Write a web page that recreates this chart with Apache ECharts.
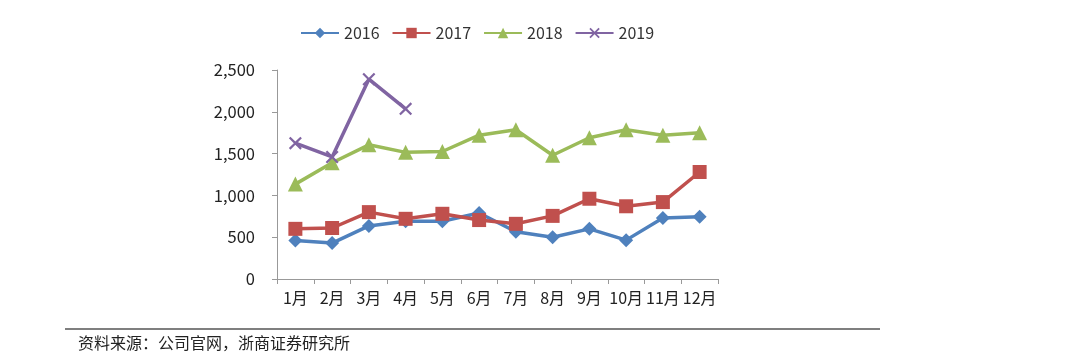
<!DOCTYPE html>
<html><head><meta charset="utf-8">
<script src="https://cdn.jsdelivr.net/npm/echarts@6/dist/echarts.min.js"></script>
<style>html,body{margin:0;padding:0;background:#fff}#c{width:1080px;height:362px}</style>
</head><body><div id="c"></div>
<script>
const categories = ['1月','2月','3月','4月','5月','6月','7月','8月','9月','10月','11月','12月'];
const s2016 = [460, 430, 635, 690, 690, 790, 565, 500, 600, 465, 730, 745];
const s2017 = [600, 610, 800, 720, 780, 705, 660, 755, 960, 870, 920, 1280];
const s2018 = [1135, 1390, 1605, 1515, 1525, 1720, 1785, 1480, 1690, 1785, 1720, 1750];
const s2019 = [1625, 1460, 2390, 2035];
const yTicks = [0, 500, 1000, 1500, 2000, 2500];

const font = '"Noto Sans CJK SC", "Noto Sans", sans-serif';
const xSym = 'path://M0,1.2L1.2,0L5,3.8L8.8,0L10,1.2L6.2,5L10,8.8L8.8,10L5,6.2L1.2,10L0,8.8L3.8,5Z';
function ser(name, data, color, symbol, size) {
  return {name, type:'line', data, symbol, symbolSize:size,
    lineStyle:{color, width:3.5}, itemStyle:{color}, z: 3};
}
const chart = echarts.init(document.getElementById('c'));
chart.setOption({
  animation:false,
  textStyle:{fontFamily:font},
  legend:{top:20, left:295, itemWidth:38, itemHeight:13, itemGap:12,
    textStyle:{fontSize:16, color:'#333', fontFamily:font},
    data:['2016','2017','2018','2019']},
  grid:{left:277, right:362, top:70, bottom:83},
  xAxis:{type:'category', data:categories, boundaryGap:true,
    axisLine:{lineStyle:{color:'#999'}}, axisTick:{show:true, alignWithLabel:false, length:5, lineStyle:{color:'#999'}},
    axisLabel:{fontSize:16, color:'#222', margin:11, interval:0}},
  yAxis:{type:'value', min:yTicks[0], max:yTicks[yTicks.length-1], interval:500,
    axisLine:{show:true, lineStyle:{color:'#999'}}, axisTick:{show:true, length:5, lineStyle:{color:'#999'}},
    splitLine:{show:false},
    axisLabel:{fontSize:16.5, color:'#222', margin:22,
      formatter:v=>v.toLocaleString('en-US')}},
  series:[
    ser('2016', s2016, '#4F81BD', 'diamond', 14),
    ser('2017', s2017, '#C0504D', 'rect', 14),
    ser('2018', s2018, '#9BBB59', 'triangle', 15),
    ser('2019', s2019, '#8064A2', xSym, 13)
  ],
  graphic:[
    {type:'line', shape:{x1:65, y1:329, x2:880, y2:329}, style:{stroke:'#555', lineWidth:1.5}},
    {type:'text', left:78, top:335, style:{text:'资料来源：公司官网，浙商证券研究所', fontSize:16, fill:'#222', fontFamily:font}}
  ]
});
</script></body></html>
